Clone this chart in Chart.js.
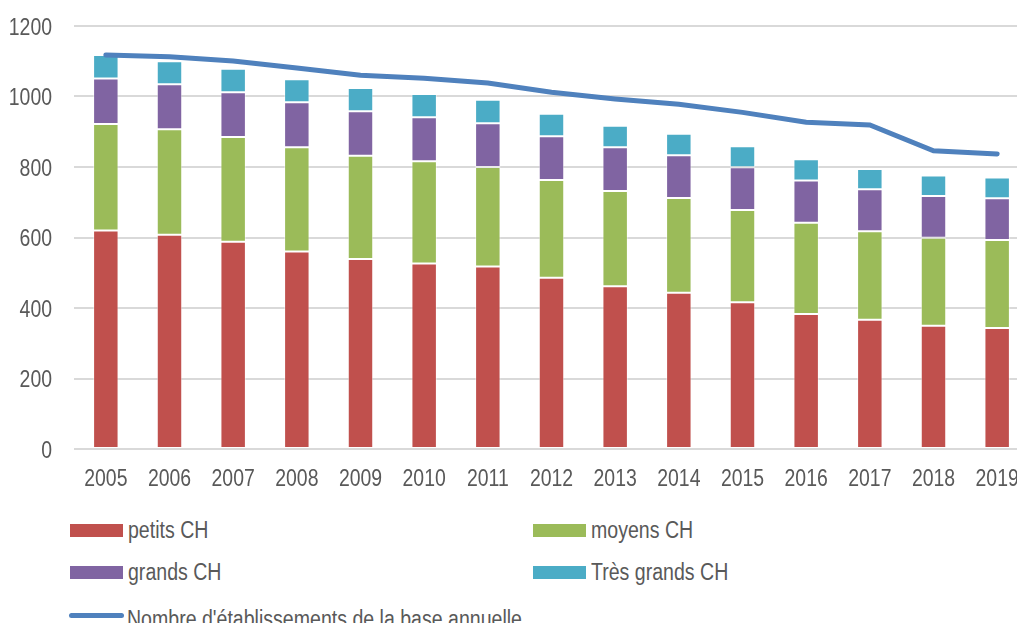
<!DOCTYPE html>
<html>
<head>
<meta charset="utf-8">
<script src="https://cdn.jsdelivr.net/npm/chart.js@4.4.1/dist/chart.umd.min.js"></script>
<style>
  html, body { margin: 0; padding: 0; background: #fff; overflow: hidden; }
  #wrap { position: relative; width: 1030px; height: 623px; }
  #chartBox { position: absolute; left: 0; top: 0; width: 1030px; height: 500px; }
  .leg { position: absolute; font-family: 'Liberation Sans', Arial, sans-serif; font-size: 23px; color: #595959;
         white-space: nowrap; line-height: 26px; transform: scaleX(0.85); transform-origin: 0 0; }
  .box { position: absolute; width: 53px; height: 13px; }
  .ln { position: absolute; width: 55px; height: 5px; border-radius: 3px; }
</style>
</head>
<body>
<div id="wrap">
  <div id="chartBox"><canvas id="barchart"></canvas></div>
  <div id="legend"></div>
</div>
<script>
'use strict'

// values
var years = ['2005', '2006', '2007', '2008', '2009', '2010', '2011', '2012', '2013', '2014', '2015', '2016', '2017', '2018', '2019'];
var petits = [620, 608, 588, 560, 539, 526, 518, 486, 462, 443, 416, 383, 367, 350, 343];
var moyens = [302, 299, 297, 296, 293, 290, 282, 277, 270, 269, 262, 259, 251, 249, 250];
var grands = [129, 128, 127, 128, 126, 125, 124, 124, 124, 121, 121, 120, 119, 119, 118];
var tresGrands = [67, 65, 67, 65, 66, 66, 67, 64, 61, 61, 60, 60, 57, 58, 59];
var nbEtab = [1118, 1113, 1101, 1081, 1060, 1052, 1038, 1012, 993, 978, 955, 927, 919, 846, 837];
var yTicks = [0, 200, 400, 600, 800, 1000, 1200];

var textColor = '#595959';

function barSet(label, data, color) {
    return {
        type: 'bar',
        label: label,
        data: data,
        backgroundColor: color,
        borderColor: 'rgba(255,255,255,0.45)',
        borderWidth: 1,
        borderSkipped: false,
        stack: 'ch',
        barPercentage: 0.4,
        categoryPercentage: 1,
        order: 2
    };
}

var datasets = [
    barSet('petits CH', petits, '#C0504D'),
    barSet('moyens CH', moyens, '#9BBB59'),
    barSet('grands CH', grands, '#8064A2'),
    barSet('Très grands CH', tresGrands, '#4BACC6'),
    {
        type: 'line',
        label: "Nombre d'établissements de la base annuelle",
        data: nbEtab,
        borderColor: '#4F81BD',
        backgroundColor: '#4F81BD',
        borderWidth: 5,
        borderCapStyle: 'round',
        pointRadius: 0,
        tension: 0,
        stack: 'total',
        order: 1
    }
];

// the source uses a narrow font that is not installed: draw the scale labels squeezed horizontally
var narrowTicks = {
    id: 'narrowTicks',
    afterDraw: function (chart) {
        var c = chart.ctx;
        var xs = chart.scales.x, ys = chart.scales.y;
        c.save();
        c.fillStyle = textColor;
        c.font = "24px 'Liberation Sans', Arial, sans-serif";
        c.textBaseline = 'alphabetic';
        c.textAlign = 'center';
        xs.getLabels().forEach(function (lab, i) {
            c.save();
            c.translate(xs.getPixelForTick(i), chart.chartArea.bottom + 37);
            c.scale(0.81, 1);
            c.fillText(lab, 0, 0);
            c.restore();
        });
        c.textAlign = 'right';
        ys.ticks.forEach(function (t) {
            c.save();
            c.translate(52, ys.getPixelForValue(t.value) + 8.6);
            c.scale(0.81, 1);
            c.fillText(String(t.value), 0, 0);
            c.restore();
        });
        c.restore();
    }
};

const ctx = document.getElementById('barchart');
const myChart = new Chart(ctx, {
    type: 'bar',
    data: { labels: years, datasets: datasets },
    plugins: [narrowTicks],
    options: {
        responsive: true,
        maintainAspectRatio: false,
        animation: false,
        layout: { padding: { top: 26, right: 1, left: 0, bottom: 0 } },
        plugins: { legend: { display: false }, tooltip: { enabled: false } },
        scales: {
            x: {
                stacked: true,
                grid: { display: false, drawTicks: false },
                border: { display: false },
                ticks: { display: false },
                afterFit: function (scale) { scale.height = 51; }
            },
            y: {
                stacked: true,
                min: 0,
                max: 1200,
                afterBuildTicks: function (scale) { scale.ticks = yTicks.map(function (v) { return { value: v }; }); },
                grid: { color: '#d9d9d9', lineWidth: 2, drawTicks: false },
                border: { display: false },
                ticks: { display: false },
                afterFit: function (scale) { scale.width = 74; }
            }
        }
    }
});

// legend built from the datasets, laid out like the source (two columns, line on its own row)
var legPos = [[70, 524], [533, 524], [70, 566], [533, 566], [69, 613]];
var html = '';
datasets.forEach(function (ds, i) {
    var p = legPos[i];
    if (ds.type === 'line') {
        html += '<div class="ln" style="left:' + p[0] + 'px;top:' + p[1] + 'px;background:' + ds.borderColor + '"></div>';
    } else {
        html += '<div class="box" style="left:' + p[0] + 'px;top:' + p[1] + 'px;background:' + ds.backgroundColor + '"></div>';
    }
    html += '<div class="leg" style="left:' + (p[0] + 58) + 'px;top:' + (p[1] - 7) + 'px">' + ds.label + '</div>';
});
document.getElementById('legend').innerHTML = html;
</script>
</body>
</html>
